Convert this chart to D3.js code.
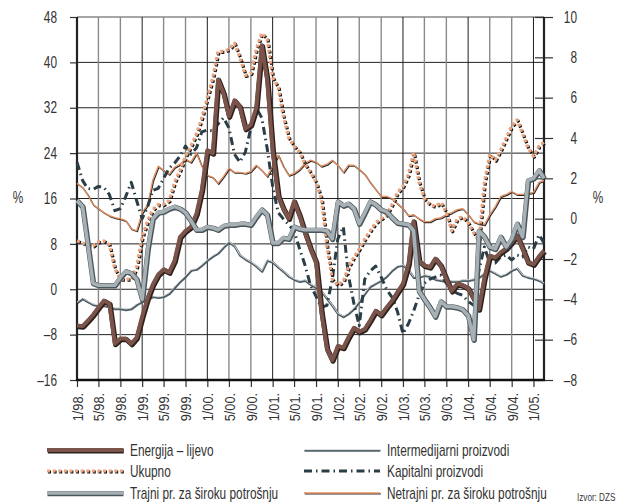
<!DOCTYPE html>
<html>
<head>
<meta charset="utf-8">
<script src="https://cdn.jsdelivr.net/npm/d3@7"></script>
<style>
  html, body { margin: 0; padding: 0; background: #fff; }
  svg { display: block; font-family: "Liberation Sans", Arial, sans-serif; }
</style>
</head>
<body>
<div id="chart"></div>
<script>
// months 1/98 .. 3/05
const months = d3.timeMonth.range(new Date(1998, 0, 1), new Date(2005, 2, 2));

const xTickLabels = ['1/98.', '5/98.', '9/98.', '1/99.', '5/99.', '9/99.', '1/00.', '5/00.', '9/00.',
  '1/01.', '5/01.', '9/01.', '1/02.', '5/02.', '9/02.', '1/03.', '5/03.', '9/03.', '1/04.', '5/04.',
  '9/04.', '1/05.'];
const leftTicks = [-16, -8, 0, 8, 16, 24, 32, 40, 48];
const rightTicks = [-8, -6, -4, -2, 0, 2, 4, 6, 8, 10];

// left axis
const energija = [-6.4, -6.5, -5.6, -4.5, -3.2, -2.0, -2.5, -9.6, -8.7, -8.7, -9.6, -8.5,
  -4.8, -1.5, 0.8, 2.6, 3.5, 3.0, 5.0, 9.2, 10.3, 11.0, 13.3, 17.5,
  24.5, 24.0, 37.0, 34.5, 30.5, 33.3, 32.2, 28.3, 29.0, 32.0, 43.0, 37.0,
  24.4, 16.5, 14.3, 12.5, 15.5, 13.0, 10.0, 7.2, 4.8, -4.0, -10.5, -12.5,
  -10.0, -10.3, -8.5, -6.8, -7.5, -7.0, -5.5, -3.8, -4.5, -3.2, -2.0, -0.5,
  1.0, 4.5, 12.0, 5.0, 4.2, 3.9, 5.4, 4.2, 1.8, -0.3, 1.0, 0.7,
  0.2, -1.6, -3.5, 2.0, 5.9, 5.6, 6.5, 7.2, 8.3, 9.5, 7.2, 4.8,
  4.4, 5.8, 6.8];
// right axis
const ukupno = [-1.1, -1.2, -1.3, -1.35, -1.15, -1.1, -1.3, -2.5, -3.0, -3.0, -3.0, -2.4,
  -0.9, -0.1, 0.45, 0.7, 0.7, 0.9, 1.8, 2.4, 3.1, 3.6, 4.2, 5.0,
  6.0, 7.0, 8.3, 8.3, 8.4, 8.7, 8.0, 7.1, 7.2, 8.4, 9.2, 8.9,
  7.0, 6.5, 5.1, 4.0, 3.6, 3.3, 2.7, 2.3, 1.8, 1.0, -1.4, -3.0,
  -3.3, -3.1, -2.4, -1.9, -1.5, -1.0, -0.6, -0.2, 0.0, 0.2, 0.7, 1.3,
  1.6, 2.2, 3.3, 1.8, 1.0, 0.7, 0.6, 0.8, 0.3, -0.6, 0.0, 0.1,
  -0.2, -0.7, -1.1, 1.8, 3.2, 2.9, 3.4, 4.0, 4.6, 4.9, 4.2, 3.5,
  3.1, 3.6, 3.8];
const trajni = [0.9, 0.6, -1.2, -3.2, -3.3, -3.3, -3.3, -3.3, -2.9, -2.6, -2.7, -3.0,
  -4.0, -1.5, 0.0, 0.3, 0.35, 0.5, 0.6, 0.5, 0.3, -0.1, -0.55, -0.55,
  -0.4, -0.45, -0.55, -0.35, -0.3, -0.3, -0.25, -0.25, -0.3, 0.1, 0.45, 0.2,
  -1.2, -1.2, -0.95, -1.0, -0.4, -0.5, -0.55, -0.55, -0.55, -0.55, -0.6, -1.0,
  0.85, 0.65, 0.75, 0.5, -0.25, 0.3, 0.85, 0.7, 0.45, 0.35, 0.05, -0.2,
  -0.25, -0.3, -0.6, -3.6, -4.0, -4.4, -4.85, -4.1, -4.35, -4.35, -4.4, -4.5,
  -4.8, -6.0, -0.6, -0.9, -1.4, -1.5, -0.9, -1.4, -1.0, -0.25, -0.9, 1.9,
  2.0, 2.4, 2.0];
const intermedijarni = [-4.15, -3.95, -4.1, -4.25, -4.3, -4.3, -4.35, -4.45, -4.45, -4.5, -4.45, -4.25,
  -4.1, -4.0, -3.85, -3.9, -3.85, -3.7, -3.4, -3.1, -2.85, -2.55, -2.5, -2.3,
  -2.05, -1.85, -1.7, -1.4, -1.15, -1.35, -1.8, -2.0, -2.15, -2.35, -2.6, -2.05,
  -2.15, -2.4, -2.6, -2.85, -3.0, -3.1, -3.05, -3.25, -3.4, -3.6, -3.95, -4.3,
  -4.7, -4.85, -4.7, -4.45, -4.1, -3.7, -3.35, -3.2, -3.05, -2.85, -2.55, -2.35,
  -2.3, -2.55, -2.9, -2.9, -2.8, -2.85, -3.0, -3.05, -3.1, -3.1, -3.1, -3.05,
  -3.05, -3.0, -2.9, -2.7, -2.55, -2.7, -2.85, -2.75, -2.55, -2.45, -2.8, -2.9,
  -2.95, -3.05, -3.2];
const kapitalni = [2.8, 1.9, 1.5, 1.45, 1.6, 1.55, 1.2, 0.4, 0.5, 1.1, 1.8, 0.9,
  0.0, 0.6, 1.4, 1.5, 2.0, 2.5, 2.75, 3.1, 3.6, 3.2, 3.5, 4.3,
  4.4, 4.35, 4.7, 5.0, 4.5, 3.2, 2.8, 3.3, 4.5, 5.5, 5.0, 3.5,
  1.6, 0.3, 0.0, -0.3, -0.6, -1.5, -2.3, -3.3, -3.85, -4.4, -4.3, -3.0,
  -1.0, -0.4, -2.8, -4.2, -5.3, -3.0, -2.6, -2.35, -2.9, -3.5, -3.9, -4.6,
  -5.7, -5.2, -4.6, -3.8, -3.2, -3.0, -2.9, -2.8, -3.2, -3.55, -3.7, -3.8,
  -4.1, -4.3, -2.6, -1.4, -2.2, -2.2, -1.9, -1.8, -2.05, -1.8, -1.9, -1.4,
  -1.5, -0.8, -1.2];
const netrajni = [1.75, 1.55, 1.2, 0.7, 0.5, 0.3, 0.15, 0.05, 0.0, -0.1, -0.5, -0.6,
  0.3, 0.7, 1.9, 2.6, 2.4, 2.2, 2.55, 2.7, 2.95, 2.8, 3.25, 2.6,
  2.15, 2.05, 1.75, 2.1, 2.5, 2.3, 2.3, 2.25, 2.35, 2.65, 2.4, 2.1,
  2.6, 3.15, 2.6, 2.15, 2.25, 2.45, 2.75, 2.9, 2.8, 2.6, 2.7, 2.9,
  2.65, 2.3, 2.65, 2.65, 2.45, 2.2, 1.8, 1.45, 1.1, 1.1, 1.0, 0.75,
  0.5, 0.15, 0.2, 0.0, -0.15, -0.15, 0.0, 0.05, 0.2, 0.3, 0.45, 0.5,
  0.2, -0.15, -0.25, -0.3, 0.2, 0.6, 1.1, 1.2, 1.35, 1.2, 1.2, 1.25,
  1.3, 1.8, 1.9];

const W = 627, H = 504;
const m = { left: 77, right: 544, top: 17, bottom: 380 };
const SX = 0.74;          // horizontal squeeze, the original uses a condensed face
const INK = '#333';

const svg = d3.select('#chart').append('svg')
  .attr('width', W)
  .attr('height', H);

// condensed text helper
function label(g, x0, y0, txt, size, anchor) {
  return g.append('text')
    .attr('transform', `translate(${x0},${y0}) scale(${SX},1)`)
    .attr('text-anchor', anchor || 'start')
    .attr('fill', INK)
    .style('font-size', size + 'px')
    .text(txt);
}

const x = d3.scaleTime()
  .domain([months[0], months[months.length - 1]])
  .range([m.left, m.right]);
const yL = d3.scaleLinear().domain([-16, 48]).range([m.bottom, m.top]);
const yR = d3.scaleLinear().domain([-8, 10]).range([m.bottom, m.top]);

const xTicks = d3.timeMonth.every(4).range(months[0], months[months.length - 1]);

// grid
const grid = svg.append('g');
grid.selectAll('.hg')
  .data(leftTicks)
  .join('line')
  .attr('x1', m.left).attr('x2', m.right)
  .attr('y1', d => yL(d)).attr('y2', d => yL(d))
  .attr('stroke', d => d === 48 ? '#888' : '#222')
  .attr('stroke-width', d => d === 48 ? 1.6 : 1);
grid.selectAll('.vg')
  .data(xTicks)
  .join('line')
  .attr('x1', d => x(d)).attr('x2', d => x(d))
  .attr('y1', m.top).attr('y2', m.bottom)
  .attr('stroke', d => d.getMonth() === 0 ? '#1e1e1e' : '#8a8a8a')
  .attr('stroke-width', d => d.getMonth() === 0 ? 1 : 1.4);

// axes
const fmt = d => d < 0 ? '\u2013' + Math.abs(d) : String(d);
const axL = svg.append('g')
  .attr('transform', `translate(${m.left},0)`)
  .call(d3.axisLeft(yL).tickValues(leftTicks).tickSize(7).tickFormat(fmt));
axL.selectAll('.tick text')
  .attr('x', -20 / SX)
  .attr('transform', `scale(${SX},1)`);

const axR = svg.append('g')
  .attr('transform', `translate(${m.right},0)`)
  .call(d3.axisRight(yR).tickValues(rightTicks).tickSize(9).tickFormat(fmt));
axR.selectAll('.tick line').attr('x1', -9);
axR.selectAll('.tick text')
  .attr('text-anchor', 'end')
  .attr('x', 33 / SX)
  .attr('transform', `scale(${SX},1)`);

const axB = svg.append('g')
  .attr('transform', `translate(0,${m.bottom})`)
  .call(d3.axisBottom(x).tickValues(xTicks).tickSize(7)
    .tickFormat((d, i) => xTickLabels[i]));
axB.selectAll('.tick text')
  .attr('transform', 'rotate(-90) scale(0.85,1)')
  .attr('text-anchor', 'end')
  .attr('x', -13 / 0.85).attr('y', 0).attr('dy', '0.36em')
  .style('font-size', '15px');

[axL, axR, axB].forEach(a => {
  a.select('.domain').remove();
  a.selectAll('.tick line').attr('stroke', INK).attr('stroke-width', 1.2);
  a.selectAll('text').attr('fill', INK).style('font-family', '"Liberation Sans", Arial, sans-serif');
});
axL.selectAll('.tick text').style('font-size', '16px');
axR.selectAll('.tick text').style('font-size', '16px');

// frame
svg.append('line').attr('x1', m.left).attr('x2', m.left).attr('y1', m.top).attr('y2', m.bottom + 1)
  .attr('stroke', '#222').attr('stroke-width', 2.2);
svg.append('line').attr('x1', m.right).attr('x2', m.right).attr('y1', m.top).attr('y2', m.bottom + 1)
  .attr('stroke', '#222').attr('stroke-width', 2.2);
svg.append('line').attr('x1', m.left - 1).attr('x2', m.right + 1).attr('y1', m.bottom).attr('y2', m.bottom)
  .attr('stroke', '#111').attr('stroke-width', 2.6);

label(svg, 18, 203, '%', 16, 'middle');
label(svg, 598, 203, '%', 16, 'middle');

// series styles: list of stroke layers
const styles = {
  energija: [
    { stroke: '#2e1f1b', w: 5.2, dx: 0.8, dy: 1 },
    { stroke: '#7a544a', w: 4 }
  ],
  ukupno: [
    { stroke: '#151515', w: 3.2, dash: '3,2.6', dx: 1, dy: 1 },
    { stroke: '#eba47e', w: 3.2, dash: '3,2.6' }
  ],
  trajni: [
    { stroke: '#4a565c', w: 5.4, dx: 0.5, dy: 0.6 },
    { stroke: '#a6b0b5', w: 3.6 }
  ],
  intermedijarni: [
    { stroke: '#4f5d65', w: 2.4, dx: 0.4, dy: 0.6 },
    { stroke: '#f2f4f5', w: 0.8, dy: -0.4 }
  ],
  kapitalni: [
    { stroke: '#2b3d46', w: 3, dash: '8,4,1.5,4' }
  ],
  netrajni: [
    { stroke: '#2a2a2a', w: 1.3, dx: 0.8, dy: 0.9 },
    { stroke: '#e28d5e', w: 1.3 }
  ]
};

const series = [
  { key: 'netrajni', values: netrajni, y: yR },
  { key: 'intermedijarni', values: intermedijarni, y: yR },
  { key: 'kapitalni', values: kapitalni, y: yR },
  { key: 'ukupno', values: ukupno, y: yR },
  { key: 'energija', values: energija, y: yL },
  { key: 'trajni', values: trajni, y: yR }
];

const plot = svg.append('g');
series.forEach(s => {
  const line = d3.line()
    .x((d, i) => x(months[i]))
    .y(d => s.y(d));
  styles[s.key].forEach(st => {
    plot.append('path')
      .datum(s.values)
      .attr('d', line)
      .attr('transform', `translate(${st.dx || 0},${st.dy || 0})`)
      .attr('fill', 'none')
      .attr('stroke', st.stroke)
      .attr('stroke-width', st.w)
      .attr('stroke-dasharray', st.dash || null)
      .attr('stroke-linejoin', 'round');
  });
});

// legend
const legendItems = [
  { key: 'energija', label: 'Energija \u2013 lijevo', col: 0, row: 0 },
  { key: 'ukupno', label: 'Ukupno', col: 0, row: 1 },
  { key: 'trajni', label: 'Trajni pr. za široku potrošnju', col: 0, row: 2 },
  { key: 'intermedijarni', label: 'Intermedijarni proizvodi', col: 1, row: 0 },
  { key: 'kapitalni', label: 'Kapitalni proizvodi', col: 1, row: 1 },
  { key: 'netrajni', label: 'Netrajni pr. za široku potrošnju', col: 1, row: 2 }
];
const colX = [47, 304];
const rowY = [450, 471, 493];
const lg = svg.append('g');
legendItems.forEach(it => {
  const x0 = colX[it.col], yy = rowY[it.row];
  styles[it.key].forEach(st => {
    lg.append('line')
      .attr('x1', x0 + (st.dx || 0)).attr('x2', x0 + 76 + (st.dx || 0))
      .attr('y1', yy + (st.dy || 0)).attr('y2', yy + (st.dy || 0))
      .attr('stroke', st.stroke)
      .attr('stroke-width', st.w)
      .attr('stroke-dasharray', st.dash || null);
  });
  label(lg, x0 + 83, yy + 6, it.label, 16);
});

label(svg, 577, 501, 'Izvor: DZS', 11);
</script>
</body>
</html>
